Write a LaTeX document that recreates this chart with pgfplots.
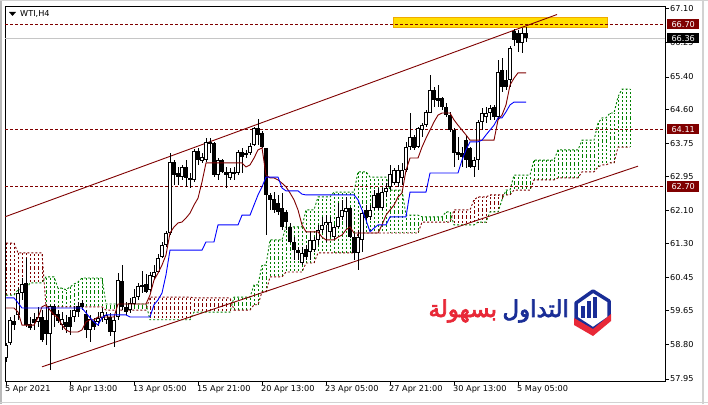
\documentclass[border=0pt]{standalone}
\usepackage{pgfplots}
\pgfplotsset{compat=1.18}
\usepackage{pgfplotstable}
\usepackage{fontspec}
\setmainfont{DejaVu Sans}
\newfontfamily\arabicfont[Script=Arabic,FakeBold=3]{DejaVu Sans}
\TeXXeTstate=1
\definecolor{mtmaroon}{RGB}{128,0,0}
\definecolor{mtgreen}{RGB}{0,128,0}
\definecolor{mtblue}{RGB}{0,0,255}
\definecolor{logoblue}{RGB}{25,45,150}
\definecolor{logored}{RGB}{232,40,55}
\definecolor{rectyellow}{RGB}{255,222,0}
\definecolor{rectedge}{RGB}{240,170,0}

\pgfplotstableread{
x o h l c
0 58.47 58.84 58.37 58.79
1 58.84 59.48 58.79 59.41
2 59.38 59.53 59.16 59.28
3 59.53 60.19 59.41 60.07
4 60.07 60.44 59.90 60.29
5 60.32 60.93 59.23 59.28
6 59.31 59.48 59.16 59.21
7 59.43 59.58 59.16 59.33
8 59.36 59.73 59.23 59.48
9 59.48 59.65 58.86 58.91
10 59.41 59.73 58.79 59.06
11 59.06 59.78 58.17 59.75
12 59.75 59.80 59.23 59.53
13 59.55 59.65 59.33 59.38
14 59.28 59.60 59.16 59.43
15 59.36 59.53 59.09 59.23
16 59.48 59.65 59.04 59.23
17 59.48 59.75 59.36 59.65
18 59.75 59.85 59.48 59.60
19 59.83 59.90 59.65 59.73
20 59.55 59.65 58.96 59.16
21 59.16 59.53 58.86 59.43
22 59.38 59.46 59.16 59.23
23 59.36 59.60 59.26 59.46
24 59.46 59.70 59.36 59.60
25 59.41 59.60 59.31 59.53
26 59.48 59.58 59.01 59.11
27 59.11 59.53 58.74 59.41
28 59.48 60.56 59.41 60.39
29 60.37 60.76 59.65 59.73
30 59.73 59.85 59.53 59.60
31 59.65 59.95 59.58 59.83
32 59.80 60.17 59.78 59.97
33 59.97 60.32 59.90 60.24
34 60.22 60.61 60.07 60.27
35 60.29 60.54 60.07 60.10
36 60.15 60.59 60.10 60.52
37 60.47 60.76 60.39 60.59
38 60.59 61.03 60.56 60.93
39 60.96 61.33 60.93 61.26
40 61.26 61.60 61.21 61.55
41 61.55 63.52 61.50 63.30
42 63.30 63.35 62.74 62.98
43 63.03 63.18 62.74 62.93
44 62.93 63.23 62.86 63.18
45 63.18 63.35 62.69 62.91
46 62.91 63.03 62.66 62.86
47 62.86 63.62 62.81 63.57
48 63.57 63.65 63.23 63.35
49 63.33 63.52 63.28 63.43
50 63.35 63.89 63.30 63.80
51 63.80 63.89 63.52 63.75
52 63.77 63.80 62.93 62.98
53 62.98 63.40 62.86 63.35
54 63.35 63.38 63.03 63.06
55 63.06 63.18 62.66 62.98
56 62.91 63.15 62.86 63.06
57 63.06 63.18 62.86 63.01
58 63.03 63.60 62.98 63.55
59 63.55 63.65 63.03 63.43
60 63.47 63.60 63.40 63.52
61 63.52 63.77 63.47 63.70
62 63.72 64.17 63.70 64.14
63 64.14 64.36 63.72 63.97
64 64.02 64.07 63.65 63.67
65 63.65 63.65 61.50 62.49
66 62.49 62.54 62.12 62.37
67 62.39 62.56 62.04 62.12
68 62.29 62.49 61.99 62.07
69 62.17 62.54 61.63 61.70
70 62.07 62.12 61.63 61.82
71 61.70 61.80 61.30 61.33
72 61.33 61.45 60.89 61.13
73 61.13 61.21 60.89 61.06
74 60.81 61.21 60.76 61.06
75 61.16 61.26 60.89 60.96
76 61.08 61.58 60.89 61.38
77 61.13 61.45 61.08 61.38
78 61.38 61.75 61.26 61.63
79 61.63 61.95 61.55 61.75
80 61.75 61.99 61.33 61.82
81 61.58 61.95 61.45 61.82
82 61.45 61.75 61.38 61.70
83 61.70 62.29 61.67 61.95
84 61.95 62.37 61.87 62.12
85 62.07 62.44 61.70 62.17
86 62.17 62.19 61.43 61.45
87 61.45 61.55 60.89 61.06
88 61.06 61.63 60.64 61.45
89 61.38 62.12 61.08 62.04
90 62.12 62.24 61.82 61.92
91 61.95 62.24 61.87 62.12
92 62.17 62.61 62.12 62.49
93 62.54 62.66 62.12 62.17
94 62.17 62.66 62.12 62.56
95 62.56 62.78 62.44 62.66
96 62.69 63.23 62.61 63.01
97 62.78 63.15 62.74 63.10
98 62.78 63.23 62.69 63.10
99 62.91 63.28 62.74 63.10
100 63.10 63.80 63.06 63.67
101 63.67 64.51 63.60 63.92
102 63.92 63.97 63.60 63.65
103 63.67 64.17 63.65 64.14
104 64.09 64.26 63.92 64.21
105 64.21 64.58 64.17 64.54
106 64.51 65.45 64.51 65.08
107 65.08 65.15 64.66 64.83
108 64.88 65.20 64.66 64.81
109 64.88 64.91 64.58 64.66
110 64.66 64.76 64.41 64.46
111 64.46 64.54 64.04 64.09
112 64.09 64.14 63.18 63.52
113 63.55 63.92 63.35 63.47
114 63.52 63.67 63.18 63.43
115 63.84 63.97 63.15 63.35
116 63.65 63.67 63.15 63.18
117 63.18 63.43 62.93 63.35
118 63.35 64.34 63.10 64.29
119 64.29 64.63 64.09 64.51
120 64.41 64.66 64.26 64.51
121 64.51 64.71 64.34 64.63
122 64.66 64.71 64.34 64.41
123 64.41 65.82 64.34 65.52
124 65.57 65.87 65.03 65.15
125 65.32 65.57 65.08 65.15
126 65.32 66.16 65.15 66.11
127 66.53 66.58 66.16 66.31
128 66.48 66.56 66.01 66.24
129 66.24 66.61 65.99 66.48
130 66.48 66.63 66.26 66.36
}\candles

\pgfplotstableread{
x t k
0 59.70 59.95
1 59.70 59.95
2 59.70 59.95
3 59.60 59.83
4 59.28 59.70
5 59.28 59.70
6 59.28 59.70
7 59.28 59.70
8 59.46 59.70
9 59.73 59.70
10 59.78 59.70
11 59.65 59.70
12 59.53 59.70
13 59.46 59.70
14 59.28 59.70
15 59.16 59.70
16 59.11 59.70
17 59.11 59.70
18 59.11 59.70
19 59.16 59.70
20 59.36 59.58
21 59.41 59.46
22 59.41 59.36
23 59.48 59.28
24 59.48 59.46
25 59.48 59.53
26 59.48 59.53
27 59.48 59.53
28 59.80 59.53
29 59.80 59.53
30 59.80 59.53
31 59.80 59.48
32 59.80 59.48
33 59.80 59.48
34 59.80 59.48
35 59.80 59.48
36 60.02 59.48
37 60.39 59.78
38 60.56 59.90
39 60.76 60.07
40 61.01 60.52
41 61.55 61.13
42 61.70 61.13
43 61.80 61.13
44 61.82 61.13
45 61.92 61.13
46 62.04 61.13
47 62.24 61.13
48 62.41 61.13
49 62.81 61.13
50 63.28 61.33
51 63.28 61.33
52 63.28 61.33
53 63.28 61.75
54 63.28 61.75
55 63.28 61.75
56 63.28 61.75
57 63.28 61.75
58 63.28 61.75
59 63.28 61.99
60 63.18 61.99
61 63.23 61.99
62 63.40 62.24
63 63.60 62.49
64 63.65 62.69
65 62.98 62.93
66 62.91 62.93
67 62.91 62.93
68 62.86 62.93
69 62.78 62.66
70 62.69 62.59
71 62.54 62.59
72 62.37 62.59
73 62.12 62.59
74 61.75 62.51
75 61.58 62.49
76 61.58 62.49
77 61.58 62.49
78 61.58 62.49
79 61.45 62.49
80 61.38 62.49
81 61.38 62.49
82 61.38 62.49
83 61.45 62.49
84 61.50 62.49
85 61.63 62.49
86 61.70 62.49
87 61.55 62.49
88 61.55 62.37
89 61.55 62.12
90 61.55 61.87
91 61.55 61.58
92 61.55 61.67
93 61.55 61.75
94 61.75 61.75
95 61.99 61.75
96 62.12 61.95
97 62.24 61.95
98 62.44 61.95
99 62.54 61.95
100 63.10 61.95
101 63.40 62.56
102 63.40 62.56
103 63.40 62.56
104 63.67 62.56
105 63.89 62.56
106 64.09 63.03
107 64.29 63.03
108 64.46 63.03
109 64.51 63.03
110 64.51 63.03
111 64.51 63.03
112 64.34 63.03
113 64.21 63.03
114 64.09 63.35
115 63.97 63.60
116 63.84 63.80
117 63.84 63.80
118 63.84 63.80
119 63.84 63.84
120 63.84 63.97
121 63.84 64.09
122 63.84 64.21
123 64.34 64.39
124 64.46 64.39
125 64.71 64.54
126 65.20 64.71
127 65.37 64.78
128 65.50 64.78
129 65.50 64.78
130 65.50 64.78
}\lines

\pgfplotstableread{
x a b
0 60.02 61.30
1 60.02 61.30
2 60.02 61.30
3 60.15 61.06
4 60.15 61.06
5 60.15 61.06
6 60.32 61.06
7 60.32 61.06
8 60.32 61.06
9 60.32 61.06
10 60.47 59.73
11 60.47 59.73
12 60.47 59.73
13 60.19 59.73
14 60.19 59.73
15 60.15 59.73
16 60.22 59.73
17 60.29 59.73
18 60.34 59.73
19 60.44 59.73
20 60.44 59.73
21 60.44 59.73
22 60.44 59.73
23 60.44 59.73
24 60.44 59.73
25 59.80 59.65
26 59.80 59.65
27 59.80 59.65
28 59.80 59.65
29 59.80 59.65
30 59.80 59.65
31 59.80 59.65
32 59.80 59.65
33 59.80 59.65
34 59.80 59.65
35 59.80 59.65
36 59.41 59.97
37 59.41 59.97
38 59.41 59.97
39 59.41 59.97
40 59.41 59.97
41 59.41 59.97
42 59.41 59.97
43 59.41 59.97
44 59.41 59.97
45 59.41 59.97
46 59.41 59.97
47 59.60 59.95
48 59.60 59.95
49 59.60 59.95
50 59.60 59.95
51 59.60 59.95
52 59.60 59.95
53 59.60 59.95
54 59.60 59.95
55 59.60 59.95
56 59.60 59.95
57 59.97 59.65
58 59.97 59.65
59 59.97 59.65
60 59.97 59.65
61 59.97 59.65
62 60.27 59.78
63 60.27 59.78
64 60.76 60.10
65 60.76 60.10
66 61.38 60.47
67 61.38 60.47
68 61.38 60.47
69 61.38 60.47
70 61.70 60.59
71 61.70 60.59
72 61.70 60.59
73 61.70 60.59
74 61.70 60.59
75 62.12 60.81
76 62.12 60.81
77 62.12 60.81
78 62.44 61.06
79 62.44 61.06
80 62.44 61.06
81 62.44 61.06
82 62.56 61.06
83 62.56 61.06
84 62.56 61.06
85 62.56 61.06
86 62.56 61.06
87 62.56 61.06
88 63.06 61.55
89 63.06 61.55
90 63.06 61.55
91 62.93 61.55
92 62.93 61.55
93 62.93 61.55
94 62.93 61.55
95 62.93 61.55
96 62.61 61.55
97 62.61 61.55
98 62.61 61.55
99 62.61 61.55
100 61.99 61.55
101 61.99 61.55
102 61.99 61.55
103 61.99 61.55
104 61.95 61.82
105 61.95 61.82
106 61.95 61.82
107 61.95 61.82
108 61.95 61.82
109 61.95 61.82
110 62.07 61.82
111 62.07 61.82
112 61.75 62.12
113 61.75 62.12
114 61.75 62.12
115 61.75 62.12
116 61.75 62.12
117 61.75 62.37
118 61.82 62.44
119 61.82 62.44
120 61.82 62.44
121 62.07 62.49
122 62.07 62.49
123 62.07 62.49
124 62.37 62.49
125 62.61 62.49
126 62.61 62.49
127 62.98 62.61
128 62.98 62.61
129 62.98 62.61
130 62.98 62.61
131 62.98 62.61
132 63.35 62.86
133 63.35 62.86
134 63.35 62.86
135 63.35 62.86
136 63.35 62.86
137 63.35 62.86
138 63.60 62.91
139 63.60 62.91
140 63.60 62.91
141 63.60 62.91
142 63.60 62.91
143 63.60 62.91
144 63.84 63.06
145 63.84 63.06
146 63.84 63.06
147 63.84 63.06
148 64.26 63.18
149 64.39 63.23
150 64.39 63.23
151 64.51 63.28
152 64.51 63.28
153 64.91 63.67
154 65.10 63.67
155 65.10 63.67
156 65.10 63.67
}\cloud

\begin{document}
\begin{tikzpicture}[x=1bp,y=1bp]
\useasboundingbox (0,0) rectangle (708,404);
\fill[white] (0,0) rectangle (708,404);
\fill[gray!55] (0,0) rectangle (1.5,404);
\draw[gray!35, line width=1bp] (0,403.5) -- (708,403.5);
\draw[gray!35, line width=1.2bp] (703,0) -- (703,404);
\draw[gray!35, line width=1.2bp] (0,1.5) -- (708,1.5);
\begin{axis}[
  at={(5bp,23bp)}, anchor=south west,
  width=660bp, height=375bp, scale only axis,
  xmin=-0.25, xmax=164.75, ymin=57.90, ymax=67.15,
  axis line style={black, line width=0.9bp},
  tick align=outside, major tick length=4bp,
  tick style={black, line width=0.7bp},
  xtick pos=bottom, ytick pos=right,
  xtick={0,16,32,48,64,80,96,112,128},
  xticklabels={5 Apr 2021, 8 Apr 13:00, 13 Apr 05:00, 15 Apr 21:00, 20 Apr 13:00, 23 Apr 05:00, 27 Apr 21:00, 30 Apr 13:00, 5 May 05:00},
  xticklabel style={anchor=north west, inner sep=0.5bp, xshift=-1.5bp, font=\fontsize{8.2}{9}\selectfont},
  ytick={57.95,58.80,59.65,60.45,61.30,62.10,62.95,63.75,64.60,65.40,66.25,67.10},
  yticklabels={57.95,58.80,59.65,60.45,61.30,62.10,62.95,63.75,64.60,65.40,66.25,67.10},
  yticklabel style={anchor=west, inner sep=1bp, font=\fontsize{8.2}{9}\selectfont},
  clip=true,
]
% yellow rectangle object
\addplot[fill=rectyellow, draw=rectedge, line width=0.8bp] coordinates {(96.75,66.61) (150.25,66.61) (150.25,66.88) (96.75,66.88)} -- cycle;
% bid line
\addplot[gray!45, line width=0.8bp] coordinates {(-0.25,66.36) (164.75,66.36)};
% horizontal levels
\addplot[mtmaroon, line width=0.8bp, dash pattern=on 3bp off 2bp] coordinates {(-0.25,66.70) (164.75,66.70)};
\addplot[mtmaroon, line width=0.8bp, dash pattern=on 3bp off 2bp] coordinates {(-0.25,64.11) (164.75,64.11)};
\addplot[mtmaroon, line width=0.8bp, dash pattern=on 3bp off 2bp] coordinates {(-0.25,62.70) (164.75,62.70)};
% cloud hatching
\addplot[draw=none, mark=none, forget plot, error bars/.cd, y dir=both, y explicit, error mark=none,
  error bar style={draw=mtgreen, line width=0.9bp, dash pattern=on 2bp off 2bp}]
  table[x=x, y expr={(\thisrow{a}+\thisrow{b})/2}, y error expr={ifthenelse(\thisrow{a}>\thisrow{b},(\thisrow{a}-\thisrow{b})/2,0)}] {\cloud};
\addplot[draw=none, mark=none, forget plot, error bars/.cd, y dir=both, y explicit, error mark=none,
  error bar style={draw=mtmaroon, line width=0.9bp, dash pattern=on 2bp off 2bp}]
  table[x=x, y expr={(\thisrow{a}+\thisrow{b})/2}, y error expr={ifthenelse(\thisrow{b}>\thisrow{a},(\thisrow{b}-\thisrow{a})/2,0)}] {\cloud};
\addplot[mtgreen, line width=0.9bp, dash pattern=on 2bp off 2bp] table[x=x, y=a] {\cloud};
\addplot[mtmaroon, line width=0.9bp, dash pattern=on 2bp off 2bp] table[x=x, y=b] {\cloud};
% channel
\addplot[mtmaroon, line width=0.9bp] coordinates {(-0.25,61.95) (137.75,66.94)};
\addplot[mtmaroon, line width=0.9bp] coordinates {(9,58.25) (158,63.20)};
% candles: wicks
\addplot[draw=none, mark=none, forget plot, error bars/.cd, y dir=both, y explicit, error mark=none,
  error bar style={draw=black, line width=0.9bp, solid}]
  table[x=x, y expr={(\thisrow{h}+\thisrow{l})/2}, y error expr={(\thisrow{h}-\thisrow{l})/2}] {\candles};
% bodies
\addplot[draw=none, mark=none, forget plot, error bars/.cd, y dir=both, y explicit, error mark=none,
  error bar style={draw=black, line width=3.2bp, solid, line cap=butt}]
  table[x=x, y expr={(\thisrow{o}+\thisrow{c})/2}, y error expr={max(abs(\thisrow{o}-\thisrow{c})/2,0.013)}] {\candles};
\addplot[draw=none, mark=none, forget plot, error bars/.cd, y dir=both, y explicit, error mark=none,
  error bar style={draw=white, line width=1.3bp, solid, line cap=butt}]
  table[x=x, y expr={(\thisrow{o}+\thisrow{c})/2}, y error expr={ifthenelse(\thisrow{c}>\thisrow{o},max((\thisrow{c}-\thisrow{o})/2-0.025,0),0)}] {\candles};
% tenkan / kijun
\addplot[mtmaroon, line width=0.9bp] table[x=x, y=t] {\lines};
\addplot[mtblue, line width=0.9bp] table[x=x, y=k] {\lines};
\coordinate (r6670) at (axis cs:164.75,66.70);
\coordinate (r6636) at (axis cs:164.75,66.36);
\coordinate (r6411) at (axis cs:164.75,64.11);
\coordinate (r6270) at (axis cs:164.75,62.70);
\end{axis}
\tikzset{pl/.style={anchor=west, inner sep=0pt, minimum width=32bp, minimum height=10.5bp, text=white, font=\fontsize{8.2}{9}\selectfont, xshift=2bp}}
\node[pl, fill=mtmaroon] at (r6670) {66.70};
\node[pl, fill=black] at (r6636) {66.36};
\node[pl, fill=mtmaroon] at (r6411) {64.11};
\node[pl, fill=mtmaroon] at (r6270) {62.70};
% title
\fill[black] (9,392) -- (16,392) -- (12.5,388) -- cycle;
\node[anchor=west, inner sep=0pt, font=\fontsize{8.2}{9}\selectfont] at (20,390) {WTI,H4};
% logo
\node[anchor=east, inner sep=0pt, text=logoblue, font=\fontsize{23}{24}\selectfont] (w1) at (569,93) {\arabicfont\beginR التداول\endR};
\node[anchor=east, inner sep=0pt, text=logored, font=\fontsize{23}{24}\selectfont] at ([xshift=-5bp]w1.west) {\arabicfont\beginR بسهولة\endR};
\filldraw[fill=white, draw=logoblue, line width=3.5bp, line join=round] (576,101) -- (593,113) -- (609,103) -- (609,86) -- (593,75) -- (576,86) -- cycle;
\fill[logoblue] (581,86) rectangle (584.5,98);
\fill[logoblue] (587,86) rectangle (590.5,103);
\fill[logoblue] (593,86) rectangle (596.5,107);
\fill[logored] (574,86) -- (593,75) -- (611,90) -- (611,83) -- (593,68) -- (574,79) -- cycle;
\end{tikzpicture}
\end{document}
